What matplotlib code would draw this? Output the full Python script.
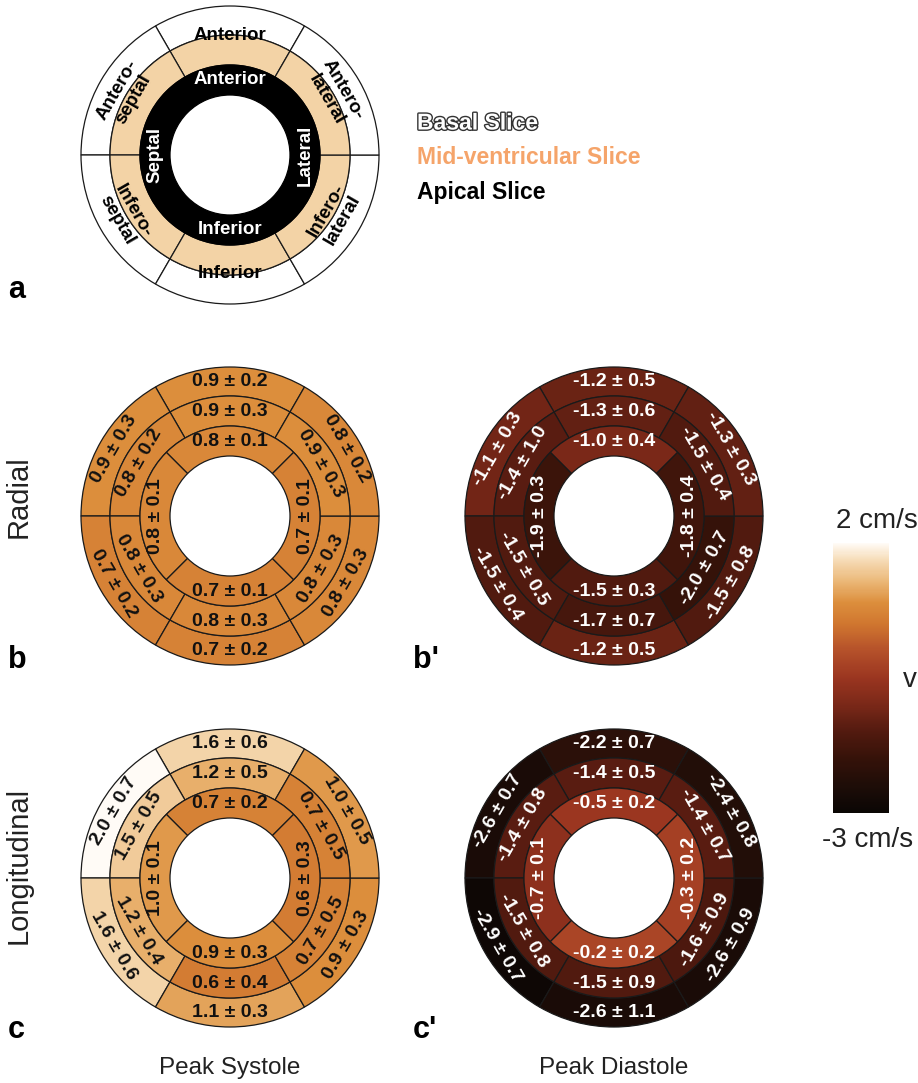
import numpy as np
import matplotlib
matplotlib.use("Agg")
import matplotlib.pyplot as plt
from matplotlib.patches import Wedge
from matplotlib.colors import LinearSegmentedColormap, Normalize
from matplotlib.cm import ScalarMappable
import matplotlib.patheffects as pe

# ---------------- data ----------------
# segment order per ring: basal/mid = anterior, anteroseptal, inferoseptal, inferior, inferolateral, anterolateral
#                         apical    = anterior, septal, inferior, lateral
radial_sys_basal = [0.9, 0.9, 0.7, 0.7, 0.8, 0.8]
radial_sys_basal_sd = [0.2, 0.3, 0.2, 0.2, 0.3, 0.2]
radial_sys_mid = [0.9, 0.8, 0.8, 0.8, 0.8, 0.9]
radial_sys_mid_sd = [0.3, 0.2, 0.3, 0.3, 0.3, 0.3]
radial_sys_apical = [0.8, 0.8, 0.7, 0.7]
radial_sys_apical_sd = [0.1, 0.1, 0.1, 0.1]

radial_dia_basal = [-1.2, -1.1, -1.5, -1.2, -1.5, -1.3]
radial_dia_basal_sd = [0.5, 0.3, 0.4, 0.5, 0.8, 0.3]
radial_dia_mid = [-1.3, -1.4, -1.5, -1.7, -2.0, -1.5]
radial_dia_mid_sd = [0.6, 1.0, 0.5, 0.7, 0.7, 0.4]
radial_dia_apical = [-1.0, -1.9, -1.5, -1.8]
radial_dia_apical_sd = [0.4, 0.3, 0.3, 0.4]

long_sys_basal = [1.6, 2.0, 1.6, 1.1, 0.9, 1.0]
long_sys_basal_sd = [0.6, 0.7, 0.6, 0.3, 0.3, 0.5]
long_sys_mid = [1.2, 1.5, 1.2, 0.6, 0.7, 0.7]
long_sys_mid_sd = [0.5, 0.5, 0.4, 0.4, 0.5, 0.5]
long_sys_apical = [0.7, 1.0, 0.9, 0.6]
long_sys_apical_sd = [0.2, 0.1, 0.3, 0.3]

long_dia_basal = [-2.2, -2.6, -2.9, -2.6, -2.6, -2.4]
long_dia_basal_sd = [0.7, 0.7, 0.7, 1.1, 0.9, 0.8]
long_dia_mid = [-1.4, -1.4, -1.5, -1.5, -1.6, -1.4]
long_dia_mid_sd = [0.5, 0.8, 0.8, 0.9, 0.9, 0.7]
long_dia_apical = [-0.5, -0.7, -0.2, -0.3]
long_dia_apical_sd = [0.2, 0.1, 0.2, 0.2]

basal_names = ["Anterior", "Antero-\nseptal", "Infero-\nseptal", "Inferior", "Infero-\nlateral", "Antero-\nlateral"]
apical_names = ["Anterior", "Septal", "Inferior", "Lateral"]
legend_labels = ["Basal Slice", "Mid-ventricular Slice", "Apical Slice"]
vmin, vmax = -3.0, 2.0

# ---------------- style ----------------
W, H = 918, 1083
cmap = LinearSegmentedColormap.from_list("vel", [
    (0.00, "#0a0604"), (0.10, "#1e0d08"), (0.20, "#351209"), (0.30, "#521a0f"),
    (0.40, "#7a2818"), (0.50, "#9a3520"), (0.60, "#b4502a"), (0.70, "#d0762f"),
    (0.78, "#dc8e3c"), (0.86, "#ebb878"), (0.94, "#f6dcb8"), (1.00, "#fffbf6")])
norm = Normalize(vmin, vmax)
FONT = "Liberation Sans"
TXT = "#222222"

fig = plt.figure(figsize=(W / 100, H / 100), dpi=100)
ax = fig.add_axes([0, 0, 1, 1])
ax.set_xlim(0, W)
ax.set_ylim(0, H)
ax.set_aspect("equal")
ax.axis("off")

R = [60, 90, 120, 149]
basal_centers = [90, 150, 210, 270, 330, 30]
apical_centers = [90, 180, 270, 0]


def Y(y):
    return H - y


def rot_for(theta):
    r = (theta - 90) % 360
    if r > 180:
        r -= 360
    if r <= -90:
        r += 180
    elif r > 90:
        r -= 180
    return r


def ring(cx, cy, r_in, r_out, centers, width, colors):
    for th, col in zip(centers, colors):
        ax.add_patch(Wedge((cx, Y(cy)), r_out, th - width / 2, th + width / 2,
                           width=r_out - r_in, facecolor=col, edgecolor="#1a1a1a", lw=0.9))


def bullseye(cx, cy, basal, basal_sd, mid, mid_sd, apical, apical_sd):
    rings = [(R[2], R[3], basal_centers, 60, basal, basal_sd),
             (R[1], R[2], basal_centers, 60, mid, mid_sd),
             (R[0], R[1], apical_centers, 90, apical, apical_sd)]
    for r_in, r_out, centers, width, vals, sds in rings:
        ring(cx, cy, r_in, r_out, centers, width, [cmap(norm(v)) for v in vals])
        rm = (r_in + r_out) / 2
        for th, v, s in zip(centers, vals, sds):
            x = cx + rm * np.cos(np.radians(th))
            y = Y(cy) + rm * np.sin(np.radians(th))
            ax.text(x, y, f"{v:.1f} ± {s:.1f}", ha="center", va="center",
                    rotation=rot_for(th), rotation_mode="anchor",
                    fontsize=14, fontweight="bold", family=FONT,
                    color="white" if v < 0 else "#111111")


# ---------------- panel a: schematic ----------------
ax_c = (230, 155)
ring(*ax_c, R[2], R[3], basal_centers, 60, ["white"] * 6)
ring(*ax_c, R[1], R[2], basal_centers, 60, ["#f3d3a6"] * 6)
ax.add_patch(Wedge((ax_c[0], Y(ax_c[1])), R[1], 0, 360, width=R[1] - R[0],
                   facecolor="black", edgecolor="black", lw=0.9))
for th, name in zip(basal_centers, basal_names):
    rm = R[2] + 1 if "\n" in name else R[2] - 1
    x = ax_c[0] + rm * np.cos(np.radians(th))
    y = Y(ax_c[1]) + rm * np.sin(np.radians(th))
    ax.text(x, y, name, ha="center", va="center", rotation=rot_for(th),
            rotation_mode="anchor", fontsize=13.5, fontweight="bold", family=FONT,
            color="black", linespacing=1.15)
for th, name in zip(apical_centers, apical_names):
    rm = (R[0] + R[1]) / 2
    x = ax_c[0] + rm * np.cos(np.radians(th))
    y = Y(ax_c[1]) + rm * np.sin(np.radians(th))
    ax.text(x, y, name, ha="center", va="center", rotation=rot_for(th),
            rotation_mode="anchor", fontsize=13.5, fontweight="bold", family=FONT,
            color="white")

# legend of slices
ax.text(417, Y(123), legend_labels[0], ha="left", va="center", fontsize=16.5,
        fontweight="bold", family=FONT, color="white",
        path_effects=[pe.Stroke(linewidth=2.0, foreground="#333333"), pe.Normal()])
ax.text(417, Y(157), legend_labels[1], ha="left", va="center", fontsize=16.5,
        fontweight="bold", family=FONT, color="#f5a46a")
ax.text(417, Y(192), legend_labels[2], ha="left", va="center", fontsize=16.5,
        fontweight="bold", family=FONT, color="black")

# ---------------- panels b, b', c, c' ----------------
bullseye(230, 516, radial_sys_basal, radial_sys_basal_sd, radial_sys_mid, radial_sys_mid_sd,
         radial_sys_apical, radial_sys_apical_sd)
bullseye(614, 516, radial_dia_basal, radial_dia_basal_sd, radial_dia_mid, radial_dia_mid_sd,
         radial_dia_apical, radial_dia_apical_sd)
bullseye(230, 878, long_sys_basal, long_sys_basal_sd, long_sys_mid, long_sys_mid_sd,
         long_sys_apical, long_sys_apical_sd)
bullseye(614, 878, long_dia_basal, long_dia_basal_sd, long_dia_mid, long_dia_mid_sd,
         long_dia_apical, long_dia_apical_sd)

# panel letters
for lab, x, y in [("a", 8, 290), ("b", 8, 660), ("b'", 413, 660), ("c", 8, 1030), ("c'", 413, 1030)]:
    ax.text(x, Y(y), lab, ha="left", va="center", fontsize=22, fontweight="bold", family=FONT)

# row / column titles
ax.text(19, Y(497), "Radial", ha="center", va="center", rotation=90, fontsize=21, family=FONT, color=TXT)
ax.text(19, Y(865), "Longitudinal", ha="center", va="center", rotation=90, fontsize=21, family=FONT, color=TXT)
ax.text(230, Y(1068), "Peak Systole", ha="center", va="center", fontsize=17.5, family=FONT, color=TXT)
ax.text(614, Y(1068), "Peak Diastole", ha="center", va="center", fontsize=17.5, family=FONT, color=TXT)

# ---------------- colorbar ----------------
cax = fig.add_axes([833 / W, 1 - 813 / H, 56 / W, 270 / H])
cb = fig.colorbar(ScalarMappable(norm=norm, cmap=cmap), cax=cax)
cb.set_ticks([])
cb.outline.set_visible(False)
ax.text(836, Y(521), "2 cm/s", ha="left", va="center", fontsize=20, family=FONT, color=TXT)
ax.text(822, Y(840), "-3 cm/s", ha="left", va="center", fontsize=20, family=FONT, color=TXT)
ax.text(903, Y(680), "v", ha="left", va="center", fontsize=20, family=FONT, color=TXT)

fig.savefig("out.png", dpi=100)
